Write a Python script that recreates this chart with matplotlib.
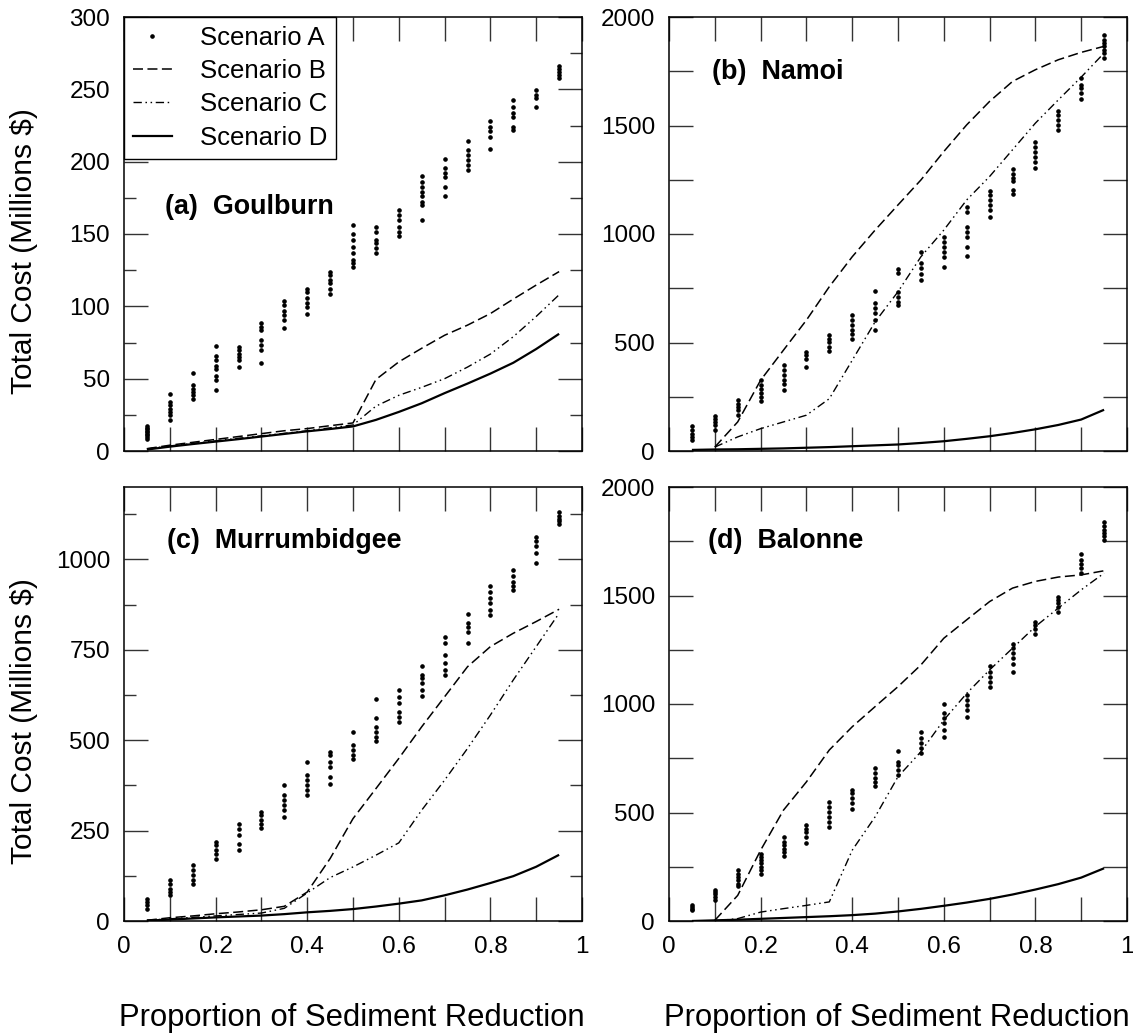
import numpy as np
import matplotlib
matplotlib.use('Agg')
import matplotlib.pyplot as plt
from matplotlib.ticker import MultipleLocator, FuncFormatter

plt.rcParams['font.family'] = ['Liberation Sans', 'DejaVu Sans']
plt.rcParams['lines.scale_dashes'] = False

xs = [0.05, 0.10, 0.15, 0.20, 0.25, 0.30, 0.35, 0.40, 0.45, 0.50,
      0.55, 0.60, 0.65, 0.70, 0.75, 0.80, 0.85, 0.90, 0.95]
xs_b = xs[1:]  # scenarios B and C start at 0.1 for Namoi and Balonne

# ---- (a) Goulburn ----
a_goul = [[8, 10, 11, 12, 13, 14, 15, 16, 17],
          [21.7, 24.7, 27, 29.3, 31.6, 34, 39.7],
          [35.8, 38.5, 41, 43, 45.5, 54],
          [42, 49, 52, 57, 59, 62.8, 66, 72.7],
          [58, 62.8, 65, 67, 69.7, 72],
          [60.5, 69.7, 73, 76.6, 83.5, 86, 88.6],
          [84.7, 90.5, 94, 97, 101, 103.6],
          [95, 99.7, 102, 105.5, 110, 112],
          [108.5, 112, 115.8, 118, 121.6, 124],
          [127.4, 129.7, 132, 136.6, 141, 146, 150, 156],
          [136.6, 140, 143.6, 146, 151.6, 154.6],
          [148.6, 151.6, 155, 159.7, 163, 166.6],
          [160, 170, 172, 176, 179, 182.8, 186, 190],
          [176.5, 182.8, 189.7, 192, 195.5, 201.7],
          [194, 197.8, 201, 204.7, 208, 214],
          [209, 217, 220.9, 224, 227.8],
          [222, 224, 231, 233.6, 238, 242.8],
          [237.5, 244, 246, 249.7],
          [258, 260, 262, 264, 266]]
b_goul = [1.6, 4, 6, 8, 10, 12, 14, 15.5, 17.5, 19.4,
          49.4, 61.6, 71, 80, 87, 95, 105, 114.7, 124]
c_goul = [1.5, 3.5, 5.2, 7, 8.8, 10.5, 12.2, 14, 16, 18,
          31, 38.5, 44, 50, 58, 67, 79, 93, 108]
d_goul = [1, 3, 4.8, 6.5, 8.2, 10, 11.8, 13.6, 15.2, 17,
          21.5, 27, 33, 40, 46.6, 53.5, 61, 70.5, 81]

# ---- (b) Namoi ----
a_namoi = [[49, 65, 80, 95, 114],
           [95, 118, 134, 149, 160],
           [168, 188, 203, 218, 234],
           [229, 249, 265, 288, 303, 326],
           [283, 311, 326, 349, 372, 395],
           [388, 426, 441, 457],
           [461, 480, 503, 518, 534],
           [518, 537, 557, 580, 603, 629],
           [557, 603, 634, 657, 680, 737],
           [672, 688, 711, 734, 818, 837],
           [788, 815, 842, 865, 918],
           [849, 895, 918, 942, 965, 985],
           [898, 942, 988, 1011, 1034, 1103, 1126],
           [1080, 1111, 1134, 1157, 1180, 1200],
           [1185, 1203, 1242, 1257, 1277, 1298],
           [1303, 1334, 1357, 1380, 1403, 1426],
           [1480, 1503, 1526, 1549, 1568],
           [1623, 1649, 1672, 1688, 1718],
           [1811, 1834, 1849, 1865, 1880, 1895, 1918]]
b_namoi = [18, 134, 326, 465, 603, 757, 895, 1018, 1134,
           1249, 1380, 1503, 1611, 1703, 1757, 1803, 1837, 1865]
c_namoi = [18, 65, 103, 134, 165, 241, 418, 595, 734,
           895, 1018, 1157, 1265, 1388, 1511, 1618, 1723, 1834]
d_namoi = [5, 7, 8, 10, 12, 15, 18, 22, 26, 30,
           37, 45, 56, 68, 83, 100, 120, 145, 190]

# ---- (c) Murrumbidgee ----
a_murr = [[34, 43, 52.6, 62],
          [71, 80, 89.5, 103, 112.6],
          [103, 112.6, 126, 140, 154],
          [172.6, 186, 195.7, 209.5, 219],
          [195.7, 214, 237, 255.7, 268],
          [258.4, 269.5, 278.8, 292.6, 302],
          [288, 306.5, 320, 334, 348, 375.7],
          [348, 361.8, 375.7, 389.5, 403, 438.5],
          [377.5, 398.7, 426, 440, 459, 468],
          [446.7, 458.8, 472.6, 486, 523],
          [498.5, 509.5, 523, 537, 560, 613],
          [551, 565, 578.7, 601.8, 620, 638.7],
          [623, 638.7, 657, 671, 680, 706],
          [680, 694, 712.6, 735.6, 768, 786],
          [768, 800, 814, 825, 849],
          [846, 860, 878.7, 892.6, 911, 925],
          [914, 925, 938.7, 952.6, 971],
          [989.5, 1017, 1035.6, 1049.5, 1063],
          [1098, 1105, 1112, 1120, 1130]]
b_murr = [2, 9, 14, 20, 25, 31, 40.6, 80, 172.6, 283,
          366, 449.5, 537, 620, 703, 758.7, 795.6, 828, 862]
c_murr = [2, 6, 10, 14, 18, 22, 35, 77.5, 120, 149.5,
          182, 216, 306.5, 389.5, 477, 569.5, 666.5, 758.7, 851]
d_murr = [1, 4, 7, 10, 12.5, 15, 19, 24, 28, 33,
          40, 48, 57, 71, 87, 105, 124, 150, 183]

# ---- (d) Balonne ----
a_bal = [[49, 57, 65, 72],
         [98, 111, 123, 134, 145],
         [160, 172, 188, 203, 218, 234],
         [218, 234, 249, 265, 280, 295, 311],
         [298, 318, 334, 349, 365, 388],
         [360, 388, 411, 426, 441],
         [434, 457, 480, 503, 526, 549],
         [518, 542, 565, 588, 603],
         [622, 642, 657, 680, 703],
         [672, 695, 718, 734, 783],
         [772, 795, 822, 842, 872],
         [849, 880, 911, 934, 957, 998],
         [938, 972, 995, 1018, 1041],
         [1077, 1103, 1126, 1149, 1175],
         [1149, 1185, 1211, 1234, 1257, 1277],
         [1323, 1345, 1365, 1380],
         [1426, 1446, 1465, 1480, 1495],
         [1603, 1626, 1645, 1665, 1691],
         [1757, 1772, 1788, 1803, 1818, 1837]]
b_bal = [3, 118, 326, 511, 641, 788, 895, 988, 1080,
         1180, 1303, 1388, 1472, 1534, 1565, 1585, 1595, 1614]
c_bal = [0, 11, 41, 57, 72, 88, 326, 480, 665,
         780, 926, 1049, 1157, 1257, 1357, 1442, 1526, 1603]
d_bal = [0, 3, 6, 10, 14, 18, 22, 27, 34, 44,
         56, 70, 85, 102, 122, 145, 170, 200, 243]

panels = [
    ('(a)  Goulburn', a_goul, xs, b_goul, xs, c_goul, d_goul, 300, 50, 25, True, (0.09, 0.562)),
    ('(b)  Namoi', a_namoi, xs_b, b_namoi, xs_b, c_namoi, d_namoi, 2000, 500, 250, False, (0.094, 0.873)),
    ('(c)  Murrumbidgee', a_murr, xs, b_murr, xs, c_murr, d_murr, 1200, 250, 125, True, (0.094, 0.876)),
    ('(d)  Balonne', a_bal, xs_b, b_bal, xs_b, c_bal, d_bal, 2000, 500, 250, False, (0.085, 0.876)),
]

W, H = 1133, 1033
fig = plt.figure(figsize=(W / 100, H / 100), dpi=100)
boxes = [(124, 17), (669, 17), (124, 487), (669, 487)]
aw, ah = 458, 434

dash_b = (0, (7.2, 3.2))
dash_c = (0, (6, 2.6, 1.1, 2.6, 1.1, 2.6))

for i, (title, a_pts, xb, b_vals, xc, c_vals, d_vals, ymax, ymaj, ymin_, short_minor, tpos) in enumerate(panels):
    x0, y0 = boxes[i]
    ax = fig.add_axes([x0 / W, 1 - (y0 + ah) / H, aw / W, ah / H])
    for x, col in zip(xs, a_pts):
        ax.plot([x] * len(col), col, linestyle='none', marker='o', ms=2.3,
                color='black', mec='black')
    ax.plot(xb, b_vals, color='black', lw=1.1, linestyle=dash_b)
    ax.plot(xc, c_vals, color='black', lw=1.0, linestyle=dash_c)
    ax.plot(xs, d_vals, color='black', lw=1.6, solid_capstyle='butt')

    ax.set_xlim(0, 1)
    ax.set_ylim(0, ymax)
    ax.xaxis.set_major_locator(MultipleLocator(0.2))
    ax.xaxis.set_minor_locator(MultipleLocator(0.1))
    ax.yaxis.set_major_locator(MultipleLocator(ymaj))
    ax.yaxis.set_minor_locator(MultipleLocator(ymin_))
    ax.xaxis.set_major_formatter(FuncFormatter(lambda v, p: '%g' % round(v, 2)))
    ax.yaxis.set_major_formatter(FuncFormatter(lambda v, p: '%d' % v))
    ax.tick_params(which='both', direction='in', top=True, right=True,
                   width=1.0, labelsize=17.5, color='#333333')
    ax.tick_params(axis='x', which='both', length=17, pad=11)
    ax.tick_params(axis='y', which='major', length=17, pad=10)
    ax.tick_params(axis='y', which='minor', length=8.5 if short_minor else 17)
    if i < 2:
        ax.tick_params(axis='x', labelbottom=False)
    for s in ax.spines.values():
        s.set_linewidth(1.1)
    ax.text(tpos[0], tpos[1], title, transform=ax.transAxes, fontsize=19.4,
            fontweight='bold', va='center', ha='left')

    if i == 0:
        hA, = ax.plot([], [], linestyle='none', marker='o', ms=2.3, color='black')
        hB, = ax.plot([], [], color='black', lw=1.1, linestyle=dash_b)
        hC, = ax.plot([], [], color='black', lw=1.0, linestyle=dash_c)
        hD, = ax.plot([], [], color='black', lw=1.6)
        leg = ax.legend([hA, hB, hC, hD],
                        ['Scenario A', 'Scenario B', 'Scenario C', 'Scenario D'],
                        loc='upper left', borderaxespad=0, fontsize=18.5,
                        fancybox=False, edgecolor='black', framealpha=1,
                        handlelength=1.5, handletextpad=1.1,
                        labelspacing=0.36, borderpad=0.35)
        leg.get_frame().set_linewidth(1.0)

for yc in (251, 721):
    fig.text(24 / W, 1 - yc / H, 'Total Cost (Millions $)', rotation=90,
             fontsize=21.5, ha='center', va='center')
for xc in (352, 897):
    fig.text(xc / W, 1 - 1018 / H, 'Proportion of Sediment Reduction',
             fontsize=22.3, ha='center', va='center')

fig.savefig('out.png', dpi=100)
